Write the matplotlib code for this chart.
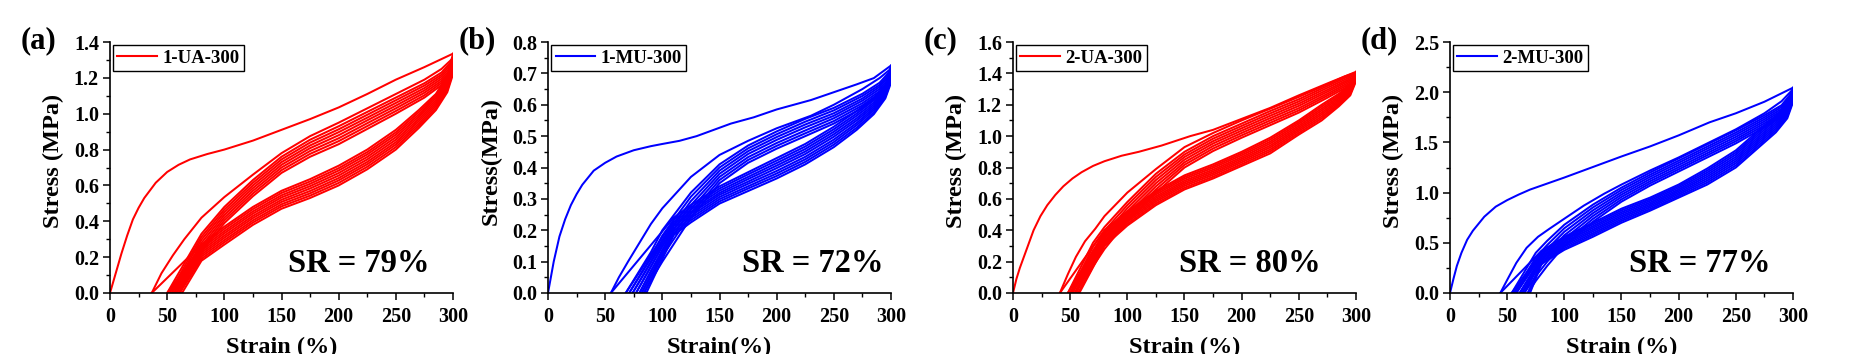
import matplotlib
matplotlib.use('Agg')
import matplotlib.pyplot as plt
from matplotlib.ticker import MultipleLocator, FormatStrFormatter

plt.rcParams['font.family'] = ['Liberation Serif', 'DejaVu Serif']
plt.rcParams['font.weight'] = 'bold'
plt.rcParams['axes.labelweight'] = 'bold'

# ---- data (strain %, stress MPa) ----
# cycle 1 = virgin loading, cycle 2 reload drawn on its own,
# later reloads on a shared strain grid, every unload goes back to its residual strain
rgrid = [70, 80, 100, 125, 150, 175, 200, 225, 250, 275, 290]
ugrid = [295, 285, 270, 250, 225, 200, 175, 150, 125, 100, 80]
b_rgrid = [90, 100, 125, 150, 175, 200, 225, 250, 275, 290]
b_ugrid = [295, 285, 270, 250, 225, 200, 175, 150, 125, 110]
d_rgrid = [75, 85, 100, 125, 150, 175, 200, 225, 250, 275, 290]

# (a) 1-UA-300
a_load_x = [0, 5, 10, 15, 20, 25, 30, 40, 50, 60, 70, 85, 100, 125, 150, 175, 200, 225, 250, 275, 300]
a_load_y = [0, 0.11, 0.22, 0.32, 0.41, 0.475, 0.53, 0.615, 0.675, 0.715, 0.745, 0.775, 0.80, 0.85, 0.91,
            0.97, 1.035, 1.11, 1.19, 1.26, 1.335]
a_r1_x = [36.5, 45, 55, 65, 80, 100, 125, 150, 175, 200, 225, 250, 275, 290, 300]
a_r1_y = [0, 0.11, 0.21, 0.30, 0.42, 0.535, 0.66, 0.78, 0.875, 0.95, 1.03, 1.11, 1.19, 1.25, 1.31]
a_res = [36.5, 50, 52, 54, 56, 58, 60, 61, 63]
a_peak = [1.335, 1.31, 1.30, 1.287, 1.273, 1.26, 1.247, 1.233, 1.22]
a_reload = [[0.22, 0.33, 0.48, 0.63, 0.76, 0.855, 0.93, 1.01, 1.09, 1.17, 1.23],
            [0.203, 0.313, 0.465, 0.615, 0.745, 0.839, 0.913, 0.994, 1.075, 1.157, 1.218],
            [0.187, 0.297, 0.45, 0.60, 0.73, 0.823, 0.897, 0.978, 1.06, 1.143, 1.207],
            [0.17, 0.28, 0.435, 0.585, 0.715, 0.808, 0.88, 0.963, 1.045, 1.13, 1.195],
            [0.153, 0.263, 0.42, 0.57, 0.70, 0.792, 0.863, 0.947, 1.03, 1.117, 1.183],
            [0.137, 0.247, 0.405, 0.555, 0.685, 0.776, 0.847, 0.931, 1.015, 1.103, 1.172],
            [0.12, 0.23, 0.39, 0.54, 0.67, 0.76, 0.83, 0.915, 1.00, 1.09, 1.16]]
a_unload = [[1.21, 1.11, 1.02, 0.91, 0.80, 0.71, 0.635, 0.57, 0.48, 0.37, 0.27],
            [1.199, 1.099, 1.008, 0.896, 0.786, 0.696, 0.622, 0.558, 0.468, 0.358, 0.259],
            [1.188, 1.088, 0.995, 0.883, 0.773, 0.683, 0.609, 0.545, 0.455, 0.345, 0.248],
            [1.176, 1.076, 0.983, 0.869, 0.759, 0.669, 0.596, 0.533, 0.443, 0.333, 0.236],
            [1.165, 1.065, 0.97, 0.855, 0.745, 0.655, 0.583, 0.52, 0.43, 0.32, 0.225],
            [1.154, 1.054, 0.958, 0.841, 0.731, 0.641, 0.569, 0.508, 0.418, 0.308, 0.214],
            [1.143, 1.043, 0.945, 0.828, 0.718, 0.628, 0.556, 0.495, 0.405, 0.295, 0.203],
            [1.131, 1.031, 0.933, 0.814, 0.704, 0.614, 0.543, 0.483, 0.393, 0.283, 0.191],
            [1.12, 1.02, 0.92, 0.80, 0.69, 0.60, 0.53, 0.47, 0.38, 0.27, 0.18]]

# (b) 1-MU-300
b_load_x = [0, 5, 10, 15, 20, 25, 30, 40, 50, 60, 75, 90, 100, 115, 130, 145, 160, 180, 200, 230, 250,
            270, 285, 300]
b_load_y = [0, 0.10, 0.18, 0.235, 0.28, 0.315, 0.345, 0.39, 0.415, 0.435, 0.455, 0.468, 0.475, 0.485,
            0.50, 0.52, 0.54, 0.56, 0.585, 0.615, 0.64, 0.665, 0.685, 0.725]
b_r1_x = [55, 62, 70, 80, 90, 100, 125, 150, 175, 200, 230, 250, 275, 290, 300]
b_r1_y = [0, 0.05, 0.10, 0.16, 0.22, 0.27, 0.37, 0.44, 0.485, 0.525, 0.565, 0.60, 0.65, 0.685, 0.715]
b_res = [55, 68, 71, 74, 77, 80, 82, 84, 86]
b_peak = [0.725, 0.715, 0.71, 0.703, 0.697, 0.69, 0.683, 0.677, 0.67]
b_reload = [[0.13, 0.20, 0.32, 0.41, 0.47, 0.515, 0.555, 0.59, 0.635, 0.67],
            [0.115, 0.183, 0.307, 0.40, 0.461, 0.506, 0.546, 0.582, 0.628, 0.663],
            [0.10, 0.167, 0.293, 0.39, 0.452, 0.497, 0.537, 0.573, 0.62, 0.657],
            [0.085, 0.15, 0.28, 0.38, 0.443, 0.488, 0.528, 0.565, 0.613, 0.65],
            [0.07, 0.133, 0.267, 0.37, 0.433, 0.478, 0.518, 0.557, 0.605, 0.643],
            [0.055, 0.117, 0.253, 0.36, 0.424, 0.469, 0.509, 0.548, 0.598, 0.637],
            [0.04, 0.10, 0.24, 0.35, 0.415, 0.46, 0.50, 0.54, 0.59, 0.63]]
b_unload = [[0.66, 0.62, 0.58, 0.53, 0.475, 0.43, 0.385, 0.34, 0.28, 0.24],
            [0.655, 0.614, 0.572, 0.522, 0.467, 0.422, 0.378, 0.333, 0.273, 0.233],
            [0.65, 0.607, 0.565, 0.514, 0.459, 0.414, 0.37, 0.326, 0.266, 0.226],
            [0.645, 0.601, 0.557, 0.506, 0.451, 0.406, 0.363, 0.319, 0.259, 0.219],
            [0.64, 0.595, 0.55, 0.498, 0.443, 0.398, 0.355, 0.313, 0.253, 0.213],
            [0.635, 0.589, 0.542, 0.489, 0.434, 0.389, 0.348, 0.306, 0.246, 0.206],
            [0.63, 0.583, 0.535, 0.481, 0.426, 0.381, 0.34, 0.299, 0.239, 0.199],
            [0.625, 0.576, 0.527, 0.473, 0.418, 0.373, 0.333, 0.292, 0.232, 0.192],
            [0.62, 0.57, 0.52, 0.465, 0.41, 0.365, 0.325, 0.285, 0.225, 0.185]]

# (c) 2-UA-300
c_load_x = [0, 3, 6, 9, 13, 18, 24, 30, 37, 44, 52, 60, 70, 80, 95, 110, 130, 155, 175, 200, 225,
            250, 278, 300]
c_load_y = [0, 0.09, 0.16, 0.22, 0.30, 0.40, 0.49, 0.56, 0.625, 0.68, 0.73, 0.77, 0.81, 0.84, 0.875,
            0.90, 0.94, 1.00, 1.04, 1.11, 1.18, 1.26, 1.345, 1.41]
c_r1_x = [41, 48, 55, 63, 72, 80, 100, 125, 150, 175, 200, 225, 250, 275, 290, 300]
c_r1_y = [0, 0.12, 0.23, 0.33, 0.41, 0.49, 0.64, 0.79, 0.93, 1.02, 1.10, 1.175, 1.25, 1.33, 1.38, 1.405]
c_res = [41, 48, 50, 51, 52, 54, 55, 57, 58]
c_peak = [1.41, 1.405, 1.40, 1.392, 1.383, 1.375, 1.367, 1.358, 1.35]
c_reload = [[0.32, 0.42, 0.58, 0.76, 0.90, 1.00, 1.08, 1.16, 1.235, 1.32, 1.37],
            [0.295, 0.397, 0.56, 0.74, 0.883, 0.984, 1.065, 1.145, 1.221, 1.308, 1.359],
            [0.27, 0.373, 0.54, 0.72, 0.867, 0.968, 1.05, 1.13, 1.207, 1.295, 1.348],
            [0.245, 0.35, 0.52, 0.70, 0.85, 0.953, 1.035, 1.115, 1.193, 1.283, 1.338],
            [0.22, 0.327, 0.50, 0.68, 0.833, 0.937, 1.02, 1.10, 1.178, 1.27, 1.327],
            [0.195, 0.303, 0.48, 0.66, 0.817, 0.921, 1.005, 1.085, 1.164, 1.258, 1.316],
            [0.17, 0.28, 0.46, 0.64, 0.80, 0.905, 0.99, 1.07, 1.15, 1.245, 1.305]]
c_unload = [[1.33, 1.27, 1.20, 1.10, 0.99, 0.90, 0.82, 0.75, 0.65, 0.52, 0.40],
            [1.321, 1.26, 1.188, 1.089, 0.978, 0.889, 0.809, 0.739, 0.639, 0.509, 0.388],
            [1.313, 1.25, 1.175, 1.078, 0.965, 0.878, 0.798, 0.728, 0.628, 0.498, 0.375],
            [1.304, 1.24, 1.163, 1.066, 0.953, 0.866, 0.786, 0.716, 0.616, 0.486, 0.363],
            [1.295, 1.23, 1.15, 1.055, 0.94, 0.855, 0.775, 0.705, 0.605, 0.475, 0.35],
            [1.286, 1.22, 1.138, 1.044, 0.928, 0.844, 0.764, 0.694, 0.594, 0.464, 0.338],
            [1.278, 1.21, 1.125, 1.033, 0.915, 0.833, 0.753, 0.683, 0.583, 0.453, 0.325],
            [1.269, 1.20, 1.113, 1.021, 0.903, 0.821, 0.741, 0.671, 0.571, 0.441, 0.313],
            [1.26, 1.19, 1.10, 1.01, 0.89, 0.81, 0.73, 0.66, 0.56, 0.43, 0.30]]

# (d) 2-MU-300
d_load_x = [0, 3, 6, 10, 15, 20, 25, 30, 40, 50, 60, 70, 80, 100, 125, 150, 175, 200, 227, 250, 275, 300]
d_load_y = [0, 0.14, 0.27, 0.40, 0.53, 0.62, 0.69, 0.76, 0.86, 0.925, 0.98, 1.03, 1.07, 1.15, 1.255,
            1.36, 1.46, 1.57, 1.70, 1.79, 1.905, 2.045]
d_r1_x = [44, 50, 58, 67, 77, 87, 100, 117, 135, 150, 175, 200, 225, 250, 275, 290, 300]
d_r1_y = [0, 0.13, 0.30, 0.45, 0.56, 0.64, 0.74, 0.87, 0.99, 1.08, 1.22, 1.35, 1.49, 1.63, 1.79, 1.91, 2.03]
d_res = [44, 54, 56, 58, 61, 63, 65, 68, 70]
d_peak = [2.045, 2.03, 2.01, 1.992, 1.973, 1.955, 1.937, 1.918, 1.90]
d_reload = [[0.40, 0.52, 0.68, 0.88, 1.05, 1.20, 1.34, 1.48, 1.62, 1.77, 1.87],
            [0.353, 0.478, 0.645, 0.852, 1.027, 1.178, 1.318, 1.458, 1.598, 1.75, 1.852],
            [0.307, 0.437, 0.61, 0.823, 1.003, 1.157, 1.297, 1.437, 1.577, 1.73, 1.833],
            [0.26, 0.395, 0.575, 0.795, 0.98, 1.135, 1.275, 1.415, 1.555, 1.71, 1.815],
            [0.213, 0.353, 0.54, 0.767, 0.957, 1.113, 1.253, 1.393, 1.533, 1.69, 1.797],
            [0.167, 0.312, 0.505, 0.738, 0.933, 1.092, 1.232, 1.372, 1.512, 1.67, 1.778],
            [0.12, 0.27, 0.47, 0.71, 0.91, 1.07, 1.21, 1.35, 1.49, 1.65, 1.76]]
d_unload = [[1.88, 1.76, 1.62, 1.42, 1.24, 1.08, 0.95, 0.84, 0.70, 0.56, 0.42],
            [1.863, 1.74, 1.599, 1.399, 1.22, 1.064, 0.934, 0.823, 0.683, 0.544, 0.404],
            [1.845, 1.72, 1.578, 1.378, 1.20, 1.048, 0.918, 0.805, 0.665, 0.528, 0.388],
            [1.828, 1.70, 1.556, 1.356, 1.18, 1.031, 0.901, 0.788, 0.648, 0.511, 0.371],
            [1.81, 1.68, 1.535, 1.335, 1.16, 1.015, 0.885, 0.77, 0.63, 0.495, 0.355],
            [1.793, 1.66, 1.514, 1.314, 1.14, 0.999, 0.869, 0.753, 0.613, 0.479, 0.339],
            [1.775, 1.64, 1.493, 1.293, 1.12, 0.983, 0.853, 0.735, 0.595, 0.463, 0.323],
            [1.758, 1.62, 1.471, 1.271, 1.10, 0.966, 0.836, 0.718, 0.578, 0.446, 0.306],
            [1.74, 1.60, 1.45, 1.25, 1.08, 0.95, 0.82, 0.70, 0.56, 0.43, 0.29]]

names = ['1-UA-300', '1-MU-300', '2-UA-300', '2-MU-300']
tags = ['(a)', '(b)', '(c)', '(d)']
sr_text = ['SR = 79%', 'SR = 72%', 'SR = 80%', 'SR = 77%']
ylabels = ['Stress (MPa)', 'Stress(MPa)', 'Stress (MPa)', 'Stress (MPa)']
xlabels = ['Strain (%)', 'Strain(%)', 'Strain (%)', 'Strain (%)']

W, H = 1865, 354
lefts = [110, 548, 1013, 1450]
ax_w, ax_top, ax_bot = 343, 42, 293
colors = ['#ff0000', '#0000ff', '#ff0000', '#0000ff']
ymax = [1.4, 0.8, 1.6, 2.5]
ymaj = [0.2, 0.1, 0.2, 0.5]
sr_x = [0.52, 0.566, 0.484, 0.522]

panels = [
    (a_load_x, a_load_y, a_r1_x, a_r1_y, a_res, a_peak, rgrid, a_reload, ugrid, a_unload),
    (b_load_x, b_load_y, b_r1_x, b_r1_y, b_res, b_peak, b_rgrid, b_reload, b_ugrid, b_unload),
    (c_load_x, c_load_y, c_r1_x, c_r1_y, c_res, c_peak, rgrid, c_reload, ugrid, c_unload),
    (d_load_x, d_load_y, d_r1_x, d_r1_y, d_res, d_peak, d_rgrid, d_reload, ugrid, d_unload),
]

lw = 1.45

fig = plt.figure(figsize=(W / 100, H / 100), dpi=100)

for i, (lx, ly, r1x, r1y, res, peak, rg, rel, ug, unl) in enumerate(panels):
    ax = fig.add_axes([lefts[i] / W, 1 - ax_bot / H, ax_w / W, (ax_bot - ax_top) / H])
    col = colors[i]
    ax.plot(lx, ly, color=col, lw=lw, label=names[i])
    ax.plot(r1x, r1y, color=col, lw=lw)
    for k in range(len(res)):
        if k > 1:
            ax.plot([res[k - 1]] + rg + [300], [0] + rel[k - 2] + [peak[k]], color=col, lw=lw)
        ax.plot([300] + ug + [res[k]], [peak[k]] + unl[k] + [0], color=col, lw=lw)

    ax.set_xlim(0, 300)
    ax.set_ylim(0, ymax[i])
    ax.xaxis.set_major_locator(MultipleLocator(50))
    ax.xaxis.set_minor_locator(MultipleLocator(25))
    ax.yaxis.set_major_locator(MultipleLocator(ymaj[i]))
    ax.yaxis.set_minor_locator(MultipleLocator(ymaj[i] / 2))
    ax.yaxis.set_major_formatter(FormatStrFormatter('%.1f'))
    ax.spines['top'].set_visible(False)
    ax.spines['right'].set_visible(False)
    for s in ['left', 'bottom']:
        ax.spines[s].set_linewidth(1.2)
    ax.tick_params(which='major', direction='out', length=5, width=1.1, labelsize=14.5, pad=3)
    ax.tick_params(which='minor', direction='out', length=3, width=1.0)
    ax.tick_params(axis='x', which='major', pad=5)
    for t in ax.get_xticklabels() + ax.get_yticklabels():
        t.set_fontweight('bold')

    ax.set_ylabel(ylabels[i], fontsize=17.5, fontweight='bold', labelpad=7, y=0.525)
    ax.set_xlabel(xlabels[i], fontsize=17.5, fontweight='bold', labelpad=7)

    leg = ax.legend(loc='upper left', fancybox=False, edgecolor='black', framealpha=1,
                    borderaxespad=0.15, handlelength=2.1, handletextpad=0.3,
                    borderpad=0.25, prop={'size': 13.5, 'weight': 'bold'})
    leg.get_frame().set_linewidth(1.0)
    leg.get_lines()[0].set_linewidth(1.5)

    ax.text(sr_x[i], 0.084, sr_text[i], transform=ax.transAxes, fontsize=23.5,
            fontweight='bold', ha='left', va='baseline')

    fig.text((lefts[i] - 89) / W, 1 - 48 / H, tags[i], fontsize=22, fontweight='bold',
             ha='left', va='baseline')

fig.savefig('out.png', dpi=100)
